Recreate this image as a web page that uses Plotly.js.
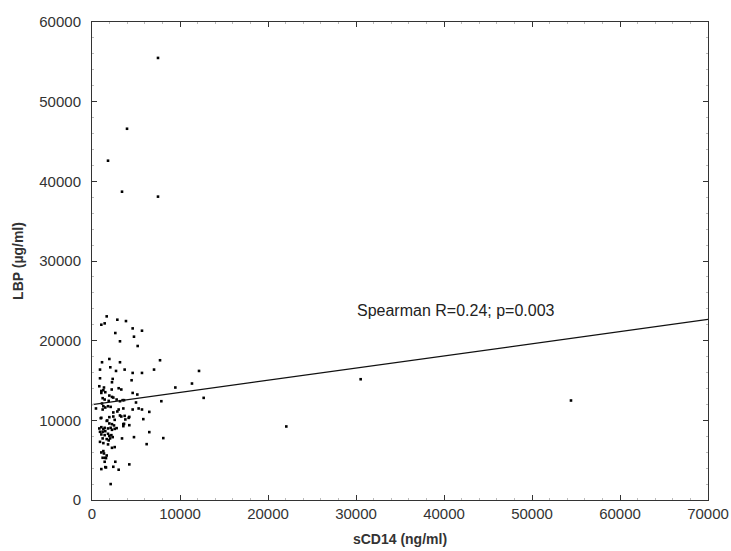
<!DOCTYPE html>
<html>
<head>
<meta charset="utf-8">
<script src="https://cdn.plot.ly/plotly-3.0.1.min.js"></script>
<style>html,body{margin:0;padding:0;background:#fff;}#chart{width:731px;height:551px;}</style>
</head>
<body>
<div id="chart"></div>
<script>
// sCD14 (ng/ml)
const sCD14 = [
7500,3980,1820,3410,7500,30530,22080,54430,12160,11360,12690,9470,7730,7050,7880,8100,6510,6510,6210,5830,
1670,1060,1440,2880,3860,2650,4620,5680,4770,3180,5190,1140,1970,3180,2080,2730,910,3710,4620,5680,
910,2350,2270,4500,830,1060,1290,1510,2240,3030,3330,4620,5150,1970,2270,2420,1210,1440,3640,3180,
1900,5000,1140,1290,1510,1820,2120,450,1210,3030,3560,4620,5300,5680,2420,2880,3180,4240,3790,1360,
1060,2800,3480,
1060,1740,1970,2420,2580,3330,3710,4160,3640,4240,830,1060,1290,1440,910,1210,1510,1820,2120,2270,
1060,1440,1820,1970,2200,2350,1210,1670,1900,2050,910,1290,1820,3410,4770,2270,2580,1290,1060,1210,
1510,1440,2650,4240,1060,1510,3030,2120,
1670,1970,2270,2500,3560,3560,2580,2800,990,1360,1670,1590,2420,1590
];
// LBP (µg/ml)
const LBP = [
55490,46600,42590,38700,38080,15160,9230,12490,16200,14620,12820,14120,17540,16370,12400,7770,11060,8520,7010,10150,
23050,22000,22170,22630,22460,20960,21540,21250,20500,19920,19330,17290,17700,17290,16660,16200,16370,16370,15950,15950,
15280,15200,14780,15030,14280,13690,13780,13530,13870,14030,13870,13440,13240,13110,12940,12860,12780,12610,12530,12400,
12440,12240,12110,11770,11610,11770,11690,11490,11360,11360,11490,11360,11490,11360,10990,11110,10610,10430,10110,14120,
13440,12610,12530,
10310,9980,10400,10480,10060,10480,10560,10310,9560,9390,8980,9140,8890,9060,8560,8560,8640,8980,9060,8810,
8230,8140,8310,8060,8140,7890,7730,7640,7480,7730,7300,7140,6980,7730,7890,6550,6640,6140,5970,5300,
5300,4800,4800,4470,3880,4130,3800,2000,
9930,9610,9520,9360,9520,9270,8930,9020,10270,5840,5590,5260,4170,4090
];
// Regression line endpoints (x range) and fitted values
const fitX = [0, 70000];
const fitY = [11980, 22670];
const annotationText = "Spearman R=0.24; p=0.003";

const FONT = 'Liberation Sans, Arial, sans-serif';
const traces = [
  {x: sCD14, y: LBP, type: 'scatter', mode: 'markers',
   marker: {symbol: 'square', size: 2.6, color: '#000'}, hoverinfo: 'x+y'},
  {x: fitX, y: fitY, type: 'scatter', mode: 'lines',
   line: {color: '#111', width: 1.2}, hoverinfo: 'skip'}
];
const axisCommon = {
  showgrid: false, zeroline: false, showline: true, linecolor: '#333', linewidth: 1,
  mirror: 'ticks', ticks: 'inside', ticklen: 5, tickcolor: '#333',
  tickformat: 'd', separatethousands: false,
  tickfont: {family: FONT, size: 15, color: '#333'}
};
const layout = {
  width: 731, height: 551,
  margin: {l: 92, r: 23, t: 22, b: 51},
  paper_bgcolor: '#fff', plot_bgcolor: '#fff',
  showlegend: false,
  xaxis: Object.assign({}, axisCommon, {
    range: [0, 70000], dtick: 10000, tick0: 0,
    minor: {dtick: 2000, ticks: 'inside', ticklen: 2, tickcolor: '#bbb'},
    title: {text: '<b>sCD14 (ng/ml)</b>', standoff: 13,
            font: {family: FONT, size: 14, color: '#333'}}
  }),
  yaxis: Object.assign({}, axisCommon, {
    range: [0, 60000], dtick: 10000, tick0: 0,
    ticklabelstandoff: 7,
    minor: {dtick: 2000, ticks: 'inside', ticklen: 2, tickcolor: '#bbb'},
    title: {text: '<b>LBP (µg/ml)</b>', standoff: 12,
            font: {family: FONT, size: 14, color: '#333'}}
  }),
  annotations: [{
    x: 41360, y: 23800, xref: 'x', yref: 'y', text: annotationText, showarrow: false,
    font: {family: FONT, size: 16, color: '#222'}
  }]
};
Plotly.newPlot('chart', traces, layout, {displayModeBar: false, staticPlot: true});
</script>
</body>
</html>
